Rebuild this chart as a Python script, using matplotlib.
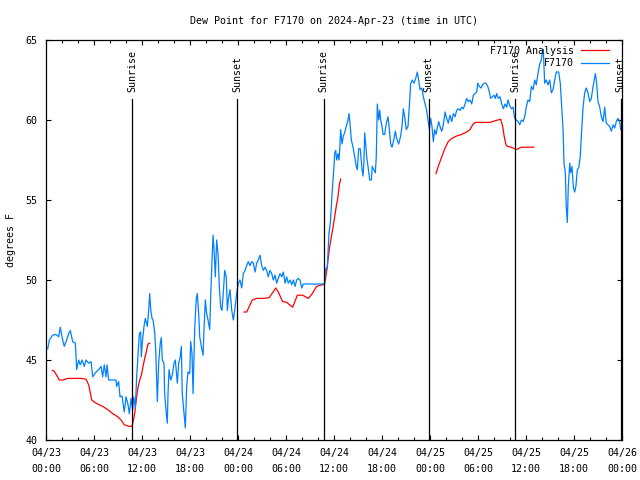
import numpy as np
import matplotlib
matplotlib.use("Agg")
import matplotlib.pyplot as plt
import matplotlib.dates as mdates

# F7170 observations: hours after 2024-04-23 00:00 UTC, dew point (F)
obs_hours = [
    0.21, 0.42, 0.83, 1.25, 1.58, 1.79, 2.0, 2.29, 2.58, 2.83, 3.04, 3.33, 3.67, 3.83, 4.08, 4.29,
    4.5, 4.79, 5.0, 5.33, 5.63, 5.83, 6.17, 6.58, 6.88, 7.08, 7.29, 7.5, 7.63, 7.83, 8.75, 8.83,
    9.08, 9.25, 9.5, 9.79, 10.0, 10.21, 10.42, 10.63, 10.83, 10.96, 11.17, 11.33, 11.46, 11.67,
    11.83, 11.92, 12.04, 12.25, 12.42, 12.67, 12.83, 12.96, 13.08, 13.25, 13.38, 13.58, 13.71, 13.92,
    14.08, 14.29, 14.42, 14.54, 14.75, 14.83, 15.04, 15.17, 15.25, 15.38, 15.58, 15.79, 16.0, 16.17,
    16.42, 16.58, 16.79, 16.92, 17.04, 17.25, 17.42, 17.58, 17.75, 17.96, 18.08, 18.25, 18.38, 18.58,
    18.79, 18.92, 19.08, 19.21, 19.42, 19.63, 19.75, 19.92, 20.08, 20.25, 20.46, 20.58, 20.75, 20.88,
    21.0, 21.17, 21.33, 21.5, 21.67, 21.83, 22.0, 22.21, 22.33, 22.54, 22.67,
    22.79, 23.0, 23.21, 23.42, 23.63, 23.83, 24.04, 24.25, 24.46, 24.67, 24.88, 25.08, 25.29, 25.5,
    25.71, 25.92, 26.13, 26.33, 26.54, 26.75, 26.96, 27.17, 27.38, 27.58, 27.79, 28.0, 28.21, 28.42,
    28.63, 28.83, 29.04, 29.25, 29.46, 29.67, 29.88, 30.08, 30.29, 30.5, 30.71, 30.92, 31.13, 31.33,
    31.54, 31.75, 31.96, 32.17, 34.83,
    34.92, 35.17, 35.25, 35.38, 35.54, 35.67, 35.79, 35.92, 36.0, 36.08, 36.21, 36.33, 36.5, 36.63,
    36.75, 36.83, 37.0, 37.17, 37.33, 37.54, 37.75, 37.88, 38.0, 38.17, 38.38, 38.58, 38.79, 38.92,
    39.08, 39.29, 39.5, 39.63, 39.75, 39.83, 39.96, 40.08, 40.25, 40.46, 40.67, 40.79, 40.96, 41.17,
    41.29, 41.42, 41.58, 41.71, 41.83, 42.0, 42.13, 42.33, 42.54, 42.75, 42.88, 43.08, 43.25, 43.46,
    43.67, 43.88, 44.08, 44.33, 44.5, 44.67, 44.83, 45.04, 45.25, 45.46, 45.58, 45.79, 46.0, 46.21,
    46.42, 46.58,
    46.75, 46.96, 47.17, 47.38, 47.58, 47.79, 47.92, 48.08, 48.25, 48.42, 48.58, 48.75, 48.92, 49.08,
    49.25, 49.46, 49.67, 49.88, 50.08, 50.29, 50.5, 50.71, 50.92, 51.13, 51.33, 51.54, 51.75, 51.96,
    52.17, 52.38, 52.58, 52.79, 53.0, 53.21, 53.42, 53.63, 53.83, 53.96, 54.17, 54.38, 54.58, 54.79,
    55.0, 55.21, 55.42, 55.58, 55.79, 56.0, 56.17, 56.33, 56.54, 56.75, 56.96, 57.17, 57.38, 57.58,
    57.75, 57.96, 58.17, 58.38, 58.58, 58.79, 59.0, 59.21, 59.42, 59.63, 59.83, 60.04, 60.25, 60.46,
    60.67, 60.88, 61.08, 61.29, 61.5, 61.71, 61.92, 62.04, 62.17, 62.33, 62.54, 62.75, 62.96, 63.17,
    63.38, 63.58, 63.79, 64.08, 64.29, 64.42, 64.63, 64.75, 64.92, 65.04, 65.17, 65.29, 65.46, 65.58,
    65.75, 65.92, 66.08, 66.25, 66.42, 66.58, 66.79, 66.92, 67.13, 67.33, 67.54, 67.75, 67.96, 68.17,
    68.38, 68.5, 68.67, 68.83, 69.0, 69.21, 69.42, 69.63, 69.83, 70.04, 70.25, 70.46, 70.67, 70.88,
    71.08, 71.29, 71.5, 71.71, 71.83,
]
obs_dewpt = [
    45.7, 46.25, 46.55, 46.6, 46.45, 47.05, 46.45, 45.85, 46.25, 46.65, 46.85, 46.15, 46.05, 44.4, 45.0, 44.7,
    45.0, 44.6, 45.0, 44.8, 44.9, 43.95, 44.2, 44.4, 44.6, 43.95, 44.7, 43.95, 44.7, 43.75, 43.75, 43.35,
    43.65, 42.7, 42.75, 41.75, 42.7, 42.3, 41.65, 42.6, 41.9, 42.7, 42.0, 43.95, 45.0, 46.65,
    46.75, 45.2, 46.05, 47.1, 47.6, 47.1, 48.1, 49.15, 48.2, 47.6, 47.5, 46.75, 45.6, 42.4,
    44.8, 46.05, 46.4, 45.0, 44.8, 42.9, 41.65, 41.05, 42.9, 44.4, 43.75, 44.05, 44.8, 45.0,
    43.55, 44.8, 45.2, 45.85, 42.9, 41.65, 40.75, 43.35, 44.25, 44.15, 46.15, 45.4, 42.9, 46.9,
    48.85, 49.15, 47.9, 46.45, 45.85, 45.3, 46.9, 48.75, 47.9, 47.5, 46.9, 48.95, 51.25, 52.8,
    51.9, 50.2, 52.5, 51.65, 49.6, 48.3, 48.1, 49.6, 50.6, 50.2, 48.1,
    48.75, 49.4, 48.1, 47.5, 48.3, 49.15, 49.8, 50.0, 49.5, 50.4, 50.6, 50.9, 51.15, 50.9,
    51.15, 51.05, 50.5, 51.05, 51.25, 51.55, 50.9, 50.6, 50.8, 50.6, 50.2, 50.6, 50.4, 50.0,
    50.3, 49.8, 50.1, 50.4, 50.2, 50.5, 49.8, 50.2, 49.8, 50.0, 49.7, 50.0, 49.6, 50.0,
    50.1, 50.0, 49.5, 49.75, 49.75,
    50.7, 50.7, 51.7, 53.0, 53.5, 54.6, 55.6, 56.5, 57.1, 57.9, 58.1, 57.5, 57.9, 57.5,
    58.5, 59.4, 58.5, 59.0, 59.2, 59.6, 60.0, 60.4, 59.8, 58.75, 58.3, 57.7, 57.1, 56.9,
    58.2, 58.2, 56.9, 56.5, 57.5, 59.2, 58.5, 57.7, 57.1, 56.25, 56.25, 57.1, 56.9, 56.7,
    57.7, 61.0, 60.0, 60.6, 60.0, 59.6, 59.1, 59.1, 59.8, 60.2, 59.6, 58.5, 58.3, 58.75,
    59.3, 58.75, 58.5, 59.0, 59.6, 60.7, 60.2, 59.4, 59.6, 61.25, 62.3, 62.5, 62.3, 62.6,
    63.0, 62.5,
    61.9, 62.0, 61.45, 61.0, 60.6, 59.9, 59.4, 60.1, 59.6, 58.65, 59.4, 59.1, 59.5, 59.9,
    59.6, 59.3, 59.7, 60.5, 60.1, 59.8, 60.3, 59.9, 60.4, 60.2, 60.6, 60.7, 60.6, 60.8,
    60.7, 61.0, 61.35, 61.15, 61.25, 61.0, 61.55, 61.65, 61.75, 62.3, 62.1, 62.0, 62.2, 62.3,
    62.3, 62.1, 61.75, 61.35, 61.45, 61.55, 61.35, 61.65, 61.35, 61.45, 61.0, 60.7, 61.0, 60.8,
    61.25, 60.9, 60.7, 60.8, 60.1, 60.0, 59.9, 59.7, 60.0, 59.9, 60.2, 60.8, 61.25, 61.15,
    62.1, 61.9, 62.5, 62.2, 62.9, 63.5, 63.75, 64.2, 64.4, 62.3, 62.5, 62.2, 62.5, 61.7,
    61.9, 62.5, 63.0, 63.0, 62.3, 61.15, 59.4, 57.3, 56.7, 54.6, 53.6, 55.8, 57.3, 56.7,
    57.1, 55.8, 55.5, 55.9, 56.9, 57.0, 57.7, 59.0, 60.8, 61.7, 62.0, 61.7, 61.15, 61.35,
    62.1, 62.4, 62.9, 62.3, 61.15, 60.8, 60.2, 59.9, 60.8, 59.8, 59.7, 59.6, 59.3, 59.7,
    59.5, 59.9, 60.1, 59.9, 59.4,
]

# F7170 analysis, three pieces separated by gaps (nan)
ana_hours = [
    0.79, 1.04, 1.67, 2.08, 2.71, 4.38, 5.0, 5.33, 5.71, 6.25, 7.08, 7.71, 8.33, 8.96, 9.38, 9.79,
    10.42, 10.75, 10.92, 11.08, 11.29, 11.5, 11.71, 11.92, 12.13, 12.33, 12.54, 12.75, 12.96,
    18.0,
    24.75, 25.08, 25.79, 26.33, 27.17, 27.92, 28.71, 29.04, 29.58, 30.08, 30.83, 31.42, 32.08, 32.79,
    33.21, 33.83, 34.46, 34.75, 34.92, 35.04, 35.25, 35.46, 35.67, 35.88, 36.08, 36.29, 36.5, 36.67,
    36.83,
    42.0,
    48.75, 49.04, 49.46, 49.88, 50.29, 50.71, 51.33, 51.96, 52.58, 53.0, 53.33, 53.63, 55.5, 56.13,
    56.83, 57.08, 57.29, 57.5, 57.67, 58.17, 58.79, 59.42, 60.96,
]
ana_dewpt = [
    44.35, 44.3, 43.75, 43.75, 43.85, 43.85, 43.8, 43.45, 42.5, 42.3, 42.1, 41.9, 41.65, 41.45, 41.25, 40.95,
    40.85, 40.85, 41.2, 41.65, 42.5, 43.3, 43.75, 44.05, 44.6, 45.1, 45.5, 46.0, 46.05,
    np.nan,
    48.0, 48.0, 48.75, 48.85, 48.85, 48.9, 49.5, 49.25, 48.65, 48.6, 48.3, 49.05, 49.05, 48.85,
    49.1, 49.6, 49.7, 49.7, 50.0, 50.4, 51.25, 52.1, 52.7, 53.3, 53.95, 54.6, 55.2, 55.95,
    56.3,
    np.nan,
    56.65, 57.1, 57.7, 58.25, 58.65, 58.85, 59.0, 59.1, 59.25, 59.4, 59.7, 59.85, 59.85, 59.95,
    60.05, 59.6, 58.95, 58.45, 58.35, 58.3, 58.15, 58.3, 58.3,
]

sun_times = ["2024-04-23T10:46", "2024-04-23T23:54", "2024-04-24T10:42",
             "2024-04-24T23:49", "2024-04-25T10:40", "2024-04-25T23:50"]
sun_labels = ["Sunrise", "Sunset", "Sunrise", "Sunset", "Sunrise", "Sunset"]

start = np.datetime64("2024-04-23T00:00")
end = np.datetime64("2024-04-26T00:00")


def to_time(hours):
    mins = np.round(np.asarray(hours, dtype=float) * 60).astype("int64")
    return start + mins.astype("timedelta64[m]")


plt.rcParams["font.family"] = ["DejaVu Sans Mono"]
plt.rcParams["font.size"] = 7.2

fig = plt.figure(figsize=(6.4, 4.8), dpi=100)
ax = fig.add_axes([46 / 640, 1 - 440 / 480, 576 / 640, 400 / 480])

ax.plot(to_time(ana_hours), ana_dewpt, color="#ff0000", lw=0.9, label="F7170 Analysis")
ax.plot(to_time(obs_hours), obs_dewpt, color="#0080ff", lw=0.9, label="F7170")

trans = ax.get_xaxis_transform()
for t, lab in zip(sun_times, sun_labels):
    tt = np.datetime64(t)
    ax.axvline(tt, ymin=0, ymax=0.8525, color="black", lw=0.9)
    ax.text(tt, 0.87, lab, transform=trans, rotation=90, ha="center", va="bottom")

ax.set_xlim(start, end)
ax.set_ylim(40, 65)
ax.set_yticks(range(40, 66, 5))
ax.xaxis.set_major_locator(mdates.HourLocator(byhour=[0, 6, 12, 18]))
ax.xaxis.set_minor_locator(mdates.HourLocator(byhour=range(0, 24, 2)))
ax.xaxis.set_major_formatter(mdates.DateFormatter("%m/%d\n%H:%M"))
ax.tick_params(which="both", direction="in", top=True, right=True, width=0.8)
ax.tick_params(axis="x", which="major", length=3.6, pad=5.5)
ax.tick_params(axis="x", which="minor", length=2.2)
ax.tick_params(axis="y", which="major", length=3.6, pad=6)
for lbl in ax.get_xticklabels():
    lbl.set_linespacing(1.8)
for sp in ax.spines.values():
    sp.set_linewidth(0.9)

ax.set_ylabel("degrees F", labelpad=7)
ax.set_title("Dew Point for F7170 on 2024-Apr-23 (time in UTC)", fontsize=7.2, pad=11.5)

ax.legend(loc="upper right", bbox_to_anchor=(1 - 6 / 576, 1 + 1 / 400), frameon=False,
          markerfirst=False, handlelength=2.8, handletextpad=0.7, labelspacing=0.25,
          borderaxespad=0.4, borderpad=0.3)

fig.savefig("out.png", dpi=100)
